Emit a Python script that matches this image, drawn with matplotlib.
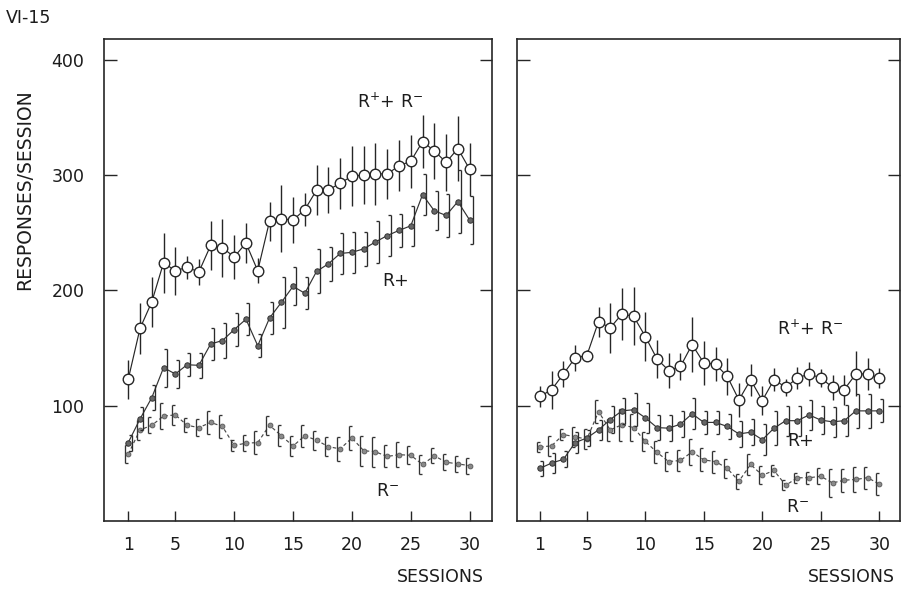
import numpy as np
import matplotlib
matplotlib.use("Agg")
import matplotlib.pyplot as plt
from matplotlib.transforms import ScaledTranslation
from matplotlib.path import Path

plt.rcParams['font.family'] = ['DejaVu Sans']
plt.rcParams['mathtext.fontset'] = 'dejavusans'

sessions = np.arange(1, 31)
x_ticks = [1, 5, 10, 15, 20, 25, 30]
y_ticks = [100, 200, 300, 400]

# ---- left panel ----
left_sum = [123, 167, 190, 224, 217, 220, 216, 239, 237, 229, 241, 217, 260, 262, 261,
            270, 287, 287, 293, 299, 300, 301, 301, 308, 312, 329, 321, 311, 323, 305]
left_sum_err = [17, 22, 22, 26, 21, 10, 11, 21, 25, 19, 17, 11, 17, 29, 20,
                14.5, 22, 20, 22, 26, 25, 27, 22, 22, 23, 23, 24, 25, 28, 23]
left_rp = [68, 88.5, 107, 133, 127.5, 135.5, 135, 153.5, 156.5, 166, 175, 152, 176, 189.5, 203.5,
           197.5, 216.5, 223, 232, 233, 236, 242, 247.5, 252, 256, 283, 269, 265, 277, 261]
left_rp_err = [7, 10, 11, 16.5, 12, 10, 11, 14, 15, 14.5, 14, 10, 14, 22, 16.5,
               14, 19, 15, 18, 18, 15, 18, 17.5, 14.5, 17.5, 17.5, 17, 19, 27, 21]
left_rm = [58, 79, 83, 91, 92, 83, 81, 85.5, 82, 65.5, 67.5, 68, 83, 74, 65,
           74, 70, 64.5, 62.5, 72, 61, 60, 56, 57.5, 57, 49, 56.5, 51, 49.5, 48]
left_rm_err = [8, 8.5, 7, 11.5, 8.5, 6, 7.5, 10, 10, 5, 7, 10, 8, 9, 8.5,
               9.5, 8, 8.5, 10.5, 10, 13, 13, 9.5, 11, 8, 8, 6.5, 7, 7, 7]

# ---- right panel ----
right_sum = [108, 114, 127.5, 141.5, 143.5, 173, 167.5, 179.5, 177.5, 160, 140.5, 130.5, 134, 153, 137,
             136, 125.5, 105, 122.5, 104.5, 122.5, 116, 124, 127.5, 124, 116, 114, 127.5, 127.5, 124]
right_sum_err = [9.5, 16.5, 11, 11, 5, 13, 21.5, 22.5, 25, 21, 16.5, 15, 12, 24, 19,
                 14.5, 16, 15, 14, 13, 10, 7.5, 9.5, 10.5, 8, 11, 13, 19.5, 14, 9]
right_rp = [45.7, 50.3, 53.5, 68, 72, 79, 88, 95.5, 96.5, 89.5, 81, 80.5, 84, 93, 85.5,
            85.5, 82, 75.5, 77, 70.5, 80.5, 87, 87, 92, 87.5, 86, 87, 95.5, 95.5, 95.5]
right_rp_err = [6.5, 8.5, 7, 9, 7, 9, 12, 11.5, 14.5, 13, 11, 11, 11.5, 13.5, 10,
                10, 11, 11.5, 11.5, 13.5, 15, 13, 13, 13, 12, 13, 13.5, 14.5, 14.5, 10]
right_rm = [64, 65.3, 75, 73, 71, 94.8, 79, 83.5, 81, 69, 59.5, 51.5, 52.5, 60, 53,
            51.5, 45.7, 34.5, 49, 39.7, 43.8, 31, 37.5, 37.5, 38.8, 33, 35.4, 36, 37.6, 32]
right_rm_err = [4.5, 8.5, 5, 8.5, 8.5, 10, 9.5, 14, 12, 8, 9.5, 8.5, 9.5, 11.5, 10,
                9.5, 8.5, 6.5, 9.5, 8, 5, 4.5, 4.5, 5, 7, 12, 10, 10.5, 9.5, 9.5]

INK = '#262626'
TXT = '#1c1c1c'
FS = 12.5

fig = plt.figure(figsize=(9.04, 5.90), dpi=100)
axL = fig.add_axes([104 / 904, 69 / 590, 388 / 904, 482 / 590])
axR = fig.add_axes([517 / 904, 69 / 590, 383 / 904, 482 / 590])

cap_right = Path([(0, 0), (1, 0)])
cap_left = Path([(0, 0), (-1, 0)])


def draw_panel(ax, total, terr, rp, rperr, rm, rmerr, xlim):
    s = sessions
    total = np.asarray(total); terr = np.asarray(terr)
    rp = np.asarray(rp); rperr = np.asarray(rperr)
    rm = np.asarray(rm); rmerr = np.asarray(rmerr)

    # R- : dashed line, small grey dots, "[" brackets on the left
    ax.plot(s, rm, ls=(0, (3.0, 2.2)), color='#4a4a4a', lw=0.85, zorder=2)
    trm = ax.transData + ScaledTranslation(-2.4 / 72, 0, fig.dpi_scale_trans)
    ax.vlines(s, rm - rmerr, rm + rmerr, transform=trm, color='#333333', lw=0.95, zorder=2)
    for yv in (rm - rmerr, rm + rmerr):
        ax.plot(s, yv, ls='none', marker=cap_right, ms=4.6, mew=0.95,
                mec='#333333', transform=trm, zorder=2)
    ax.plot(s, rm, ls='none', marker='o', ms=3.5, mfc='#8a8a8a', mec='#555555',
            mew=0.6, zorder=3)

    # R+ : solid line, filled dots, "]" brackets on the right
    ax.plot(s, rp, ls='-', color='#333333', lw=0.85, zorder=3)
    trp = ax.transData + ScaledTranslation(2.4 / 72, 0, fig.dpi_scale_trans)
    ax.vlines(s, rp - rperr, rp + rperr, transform=trp, color='#2a2a2a', lw=0.95, zorder=3)
    for yv in (rp - rperr, rp + rperr):
        ax.plot(s, yv, ls='none', marker=cap_left, ms=4.6, mew=0.95,
                mec='#2a2a2a', transform=trp, zorder=3)
    ax.plot(s, rp, ls='none', marker='o', ms=3.9, mfc='#666666', mec='#333333',
            mew=0.7, zorder=4)

    # R+ + R- : open circles, vertical bars through points
    ax.vlines(s, total - terr, total + terr, color=INK, lw=1.0, zorder=4)
    ax.plot(s, total, ls='-', color=INK, lw=0.85, marker='o', ms=7.6,
            mfc='white', mec=INK, mew=1.0, zorder=5)

    ax.set_xlim(*xlim)
    ax.set_ylim(0, 418)
    ax.set_xticks(x_ticks)
    ax.set_yticks(y_ticks)
    for sp in ax.spines.values():
        sp.set_color(INK)
        sp.set_linewidth(1.2)
    ax.tick_params(axis='x', direction='in', length=7.5, width=1.0, color=INK,
                   pad=11, labelsize=FS, labelcolor=TXT, top=False)
    ax.tick_params(axis='y', direction='in', length=9, width=1.0, color=INK,
                   pad=14, labelsize=FS, labelcolor=TXT, left=True, right=True)


draw_panel(axL, left_sum, left_sum_err, left_rp, left_rp_err, left_rm, left_rm_err,
           (-1.06, 31.9))
draw_panel(axR, right_sum, right_sum_err, right_rp, right_rp_err, right_rm, right_rm_err,
           (-0.97, 31.77))
axR.tick_params(axis='y', labelleft=False)

# series labels
axL.text(23.2, 363, r'R$^{+}$+ R$^{-}$', ha='center', va='center', fontsize=FS, color=TXT)
axL.text(23.7, 208, 'R+', ha='center', va='center', fontsize=FS, color=TXT)
axL.text(23.0, 26, r'R$^{-}$', ha='center', va='center', fontsize=FS, color=TXT)
axR.text(24.1, 166.5, r'R$^{+}$+ R$^{-}$', ha='center', va='center', fontsize=FS, color=TXT)
axR.text(23.3, 69.4, 'R+', ha='center', va='center', fontsize=FS, color=TXT)
axR.text(23.0, 12, r'R$^{-}$', ha='center', va='center', fontsize=FS, color=TXT)

# figure texts
fig.text(6 / 904, 1 - 18 / 590, 'VI-15', ha='left', va='center', fontsize=FS, color=TXT)
fig.text(25 / 904, 1 - 190 / 590, 'RESPONSES/SESSION', rotation=90, ha='center',
         va='center', fontsize=13.5, color=TXT)
fig.text(484 / 904, 1 - 577 / 590, 'SESSIONS', ha='right', va='center', fontsize=FS, color=TXT)
fig.text(895 / 904, 1 - 577 / 590, 'SESSIONS', ha='right', va='center', fontsize=FS, color=TXT)

fig.savefig('out.png', dpi=100, facecolor='white')
